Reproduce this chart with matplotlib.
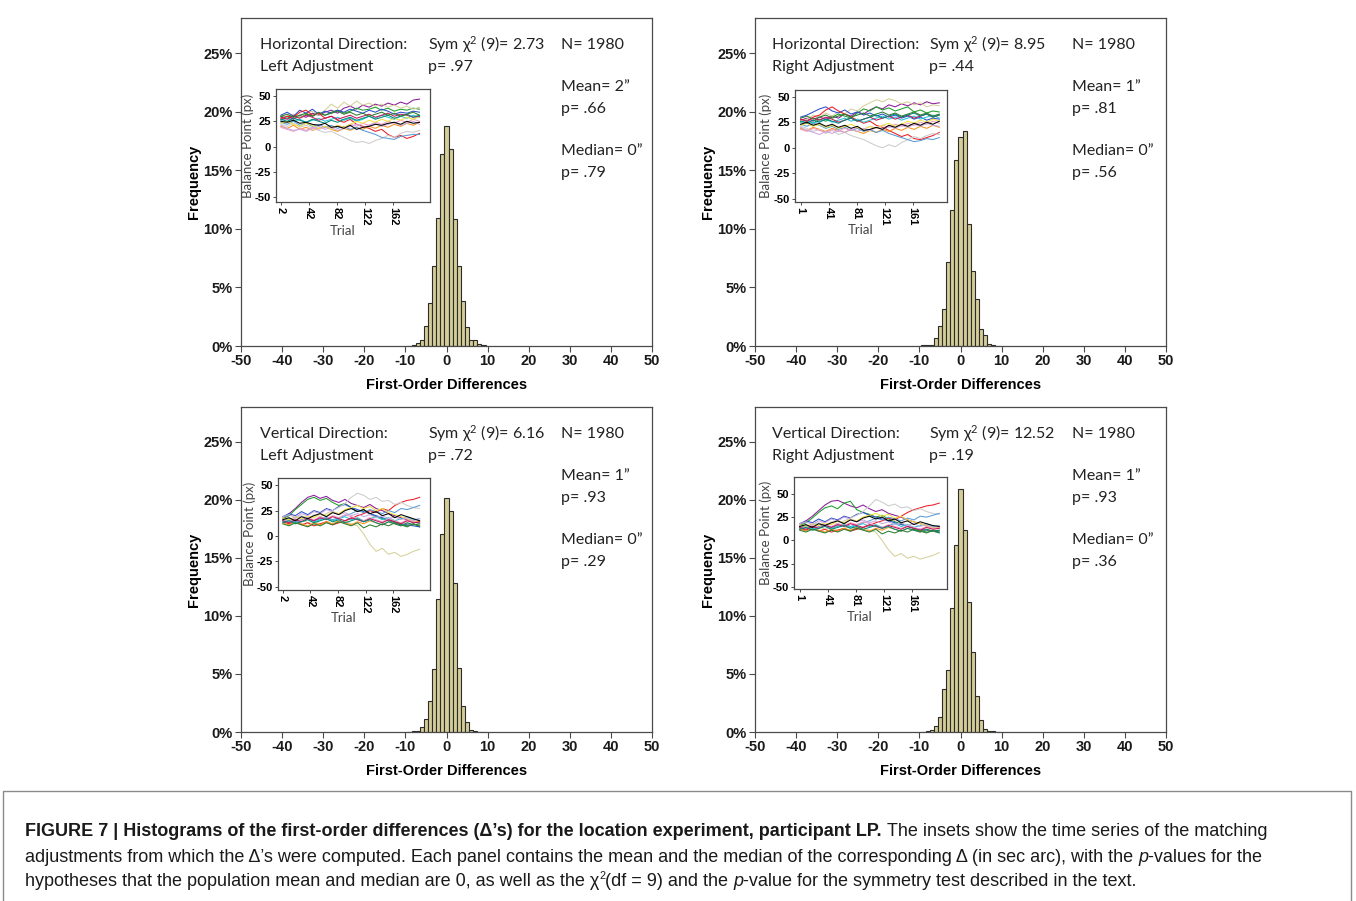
import numpy as np
import matplotlib
matplotlib.use('Agg')
import matplotlib.pyplot as plt

plt.rcParams['mathtext.fontset'] = 'custom'
plt.rcParams['mathtext.rm'] = 'Lato'
plt.rcParams['mathtext.it'] = 'Lato:italic'

# ---- histogram data (percent of N per 1-unit bin) ----
bin_centers = np.arange(-9, 10)
freq_hl = [0, 0.1, 0.26, 0.54, 1.7, 3.7, 6.8, 10.9, 16.4, 18.8, 16.8, 10.8, 6.8, 3.8, 1.6, 0.5, 0.48, 0.2, 0.1]
freq_hr = [0.05, 0.1, 0.1, 0.7, 1.7, 3.15, 7.2, 11.6, 15.9, 17.8, 18.35, 10.4, 6.4, 4.0, 1.45, 0.9, 0.2, 0.1, 0]
freq_vl = [0, 0.05, 0.1, 0.4, 1.1, 2.7, 5.4, 11.5, 17.1, 20.2, 19.0, 12.8, 5.5, 2.2, 0.9, 0.2, 0.05, 0, 0]
freq_vr = [0, 0.05, 0.15, 0.5, 1.3, 3.7, 5.35, 10.7, 16.1, 20.9, 17.4, 11.2, 6.9, 3.1, 1.0, 0.3, 0.05, 0.05, 0]

# ---- panel annotations ----
directions = ['Horizontal Direction:', 'Horizontal Direction:', 'Vertical Direction:', 'Vertical Direction:']
adjustments = ['Left Adjustment', 'Right Adjustment', 'Left Adjustment', 'Right Adjustment']
chi_values = ['2.73', '8.95', '6.16', '12.52']
sym_p = ['.97', '.44', '.72', '.19']
n_values = ['1980', '1980', '1980', '1980']
means = ['2', '1', '1', '1']
mean_p = ['.66', '.81', '.93', '.93']
medians = ['0', '0', '0', '0']
median_p = ['.79', '.56', '.29', '.36']

# ---- inset time series (balance point, px) ----
trials_left = np.arange(2, 201, 9)
trials_right = np.arange(1, 200, 9)
xticks_left = [2, 42, 82, 122, 162]
xticks_right = [1, 41, 81, 121, 161]

series_hl = [
    [28,30,27,31,29,33,31,34,36,33,38,40,37,41,39,42,40,43,41,44,42,46,47],
    [30,28,31,29,32,30,33,31,34,36,33,35,38,36,37,39,36,38,35,37,36,38,37],
    [27,30,32,29,33,35,31,36,42,38,44,40,45,41,43,40,42,39,41,38,40,37,39],
    [31,34,30,36,33,37,32,35,33,36,34,37,35,33,36,34,37,35,32,34,33,35,34],
    [27,30,29,34,36,31,33,28,30,26,24,27,22,20,18,15,17,12,9,11,8,10,13],
    [20,18,21,17,19,16,18,20,17,15,18,16,19,17,20,18,21,19,22,20,23,21,24],
    [22,20,23,19,21,18,16,14,15,12,9,6,4,5,3,6,8,11,9,13,15,14,16],
    [24,22,25,21,23,20,22,19,21,18,20,17,19,16,14,12,9,8,7,10,11,12,12],
    [26,28,25,27,24,26,28,25,27,29,26,28,25,27,30,28,31,29,27,30,28,31,29],
    [19,17,15,18,16,19,17,20,18,21,19,22,20,23,21,24,22,25,23,26,24,27,25],
    [23,25,22,20,23,21,18,20,17,21,19,22,25,23,26,24,27,25,28,26,29,27,30],
    [29,27,30,28,31,29,26,28,30,27,29,31,28,30,32,29,31,33,30,32,31,29,30],
    [27,25,28,26,24,27,25,23,26,24,27,29,26,28,30,27,29,31,28,30,32,29,31],
    [21,18,16,17,15,18,20,17,19,16,18,20,22,19,21,23,20,22,24,21,23,25,22],
    [30,32,29,31,33,30,34,31,33,35,32,34,31,33,30,32,34,31,33,30,32,34,31],
    [25,24,26,23,24,22,21,23,19,20,18,21,17,19,20,22,21,23,24,22,25,23,24],
]
series_hr = [
    [27,29,26,30,28,31,29,33,31,35,33,37,40,38,42,40,43,41,44,42,45,43,44],
    [25,27,24,28,26,30,33,31,29,34,38,36,40,37,39,36,38,40,35,37,34,36,35],
    [26,28,32,30,34,31,35,33,38,36,41,44,47,45,48,46,43,45,42,44,40,42,41],
    [30,32,35,38,40,36,34,37,33,35,32,34,31,33,30,32,29,31,28,30,27,29,28],
    [28,26,30,32,37,40,36,33,30,27,24,26,22,20,17,14,11,13,9,8,10,12,15],
    [19,17,20,18,16,19,17,15,18,16,14,17,15,18,16,19,17,20,18,21,19,22,20],
    [21,19,16,18,14,17,13,15,12,10,8,5,2,0,3,1,5,8,11,9,12,14,13],
    [23,21,24,22,19,21,18,20,17,19,16,18,15,17,14,12,10,8,6,7,9,8,10],
    [25,27,24,26,28,25,27,29,26,28,25,27,29,31,28,30,27,29,31,28,30,32,29],
    [18,16,19,17,15,18,16,19,17,20,18,21,19,22,20,23,21,24,22,25,23,26,24],
    [22,24,21,23,20,22,19,21,23,20,18,21,19,22,24,21,23,26,24,27,25,28,26],
    [28,26,29,27,30,28,25,27,29,26,28,30,27,29,31,28,30,32,29,31,33,30,32],
    [26,24,27,25,28,26,24,27,29,26,28,30,32,29,31,33,30,32,34,31,33,30,32],
    [20,17,15,13,16,14,17,15,18,16,19,17,20,18,21,19,22,20,23,21,24,22,21],
    [29,31,28,30,32,29,31,33,30,32,34,31,33,35,32,34,31,33,35,32,34,31,33],
    [23,25,22,24,21,23,20,22,19,21,17,18,20,18,22,20,23,21,24,22,25,23,26],
]
series_vl = [
    [18,22,27,33,38,40,37,39,35,33,36,32,30,28,31,27,25,22,20,18,16,14,13],
    [17,20,26,31,36,38,35,37,33,30,32,28,24,26,22,19,17,15,13,11,10,12,9],
    [15,17,14,16,13,15,12,14,16,13,15,12,10,2,-8,-15,-12,-18,-16,-20,-18,-15,-13],
    [19,22,20,24,21,25,23,27,25,29,31,28,26,24,22,20,18,16,14,12,11,10,9],
    [14,12,15,11,13,10,12,14,11,13,15,17,20,22,25,23,27,25,30,33,35,36,38],
    [13,11,14,12,10,13,11,14,12,15,13,11,14,12,15,13,11,14,12,10,13,11,12],
    [17,15,18,20,17,21,19,22,25,28,32,38,42,40,36,38,34,35,31,33,30,28,27],
    [15,17,14,16,18,15,17,19,16,18,20,22,25,23,26,24,22,25,23,27,26,28,30],
    [14,16,13,15,17,14,16,18,15,17,19,16,18,15,17,19,16,18,15,17,19,16,17],
    [16,14,17,15,18,16,19,17,20,18,21,19,17,15,18,16,14,17,15,13,16,14,15],
    [18,16,19,17,20,18,22,20,24,22,26,28,30,27,29,25,27,23,21,19,17,15,14],
    [15,13,16,14,17,15,18,16,19,17,15,18,16,14,17,15,13,16,14,12,15,13,14],
    [13,15,12,14,16,13,15,17,14,16,13,15,17,14,16,13,11,14,12,10,13,11,12],
    [19,21,18,22,20,24,22,26,24,21,23,20,22,19,21,18,20,17,19,16,18,15,17],
    [12,10,13,11,9,12,10,13,11,14,12,10,13,8,11,9,12,10,13,11,9,12,10],
    [16,18,15,19,17,20,22,19,23,21,25,27,24,26,22,24,20,22,18,21,19,17,15],
]
series_vr = [
    [17,21,26,32,38,42,43,40,37,35,38,34,31,33,29,27,25,22,20,18,16,15,14],
    [16,19,24,30,35,37,34,40,42,33,30,28,25,27,23,20,18,15,13,11,9,10,8],
    [14,16,13,15,12,14,11,13,15,12,14,11,9,0,-10,-17,-14,-19,-17,-20,-18,-16,-13],
    [18,21,19,23,20,24,22,26,24,28,30,27,25,23,21,19,17,15,13,12,11,10,9],
    [13,11,14,10,12,9,11,13,10,12,14,16,19,21,24,22,26,30,33,35,37,38,40],
    [12,10,13,11,9,12,10,13,11,14,12,10,13,11,14,12,10,13,11,9,12,10,11],
    [16,14,17,19,16,20,18,21,24,27,31,37,44,41,37,39,35,36,32,34,31,29,28],
    [14,16,13,15,17,14,16,18,15,17,19,21,24,22,25,23,21,24,22,26,25,27,29],
    [13,15,12,14,16,13,15,17,14,16,18,15,17,14,16,18,15,17,14,16,18,15,16],
    [15,13,16,14,17,15,18,16,19,17,20,18,16,14,17,15,13,16,14,12,15,13,14],
    [17,15,18,16,19,17,21,19,23,21,25,27,29,26,28,24,26,22,20,18,16,14,13],
    [14,12,15,13,16,14,17,15,18,16,14,17,15,13,16,14,12,15,13,11,14,12,13],
    [12,14,11,13,15,12,14,16,13,15,12,14,16,13,15,12,10,13,11,9,12,10,11],
    [18,20,17,21,19,23,21,25,23,20,22,19,21,18,20,17,19,16,18,15,17,14,16],
    [11,9,12,10,8,11,9,12,10,13,11,9,12,7,10,8,11,9,12,10,8,11,9],
    [15,17,14,18,16,19,21,18,22,20,24,26,23,25,21,23,19,21,17,20,18,16,15],
]
line_colors = ['#8b1a9b', '#1a9e2a', '#d6d09a', '#2a4fc8', '#ee1c24', '#f7941d',
               '#cccccc', '#5b9bd5', '#29c5d6', '#f49ac1', '#f2e040', '#c2185b',
               '#00897b', '#c8a8e0', '#2e7d32', '#000000']

W, H = 1356, 901
fig = plt.figure(figsize=(W / 100, H / 100), dpi=100)
fig.patch.set_facecolor('white')

BAR_FACE = '#d5cd98'
BAR_EDGE = '#2b2b2b'
SPINE = '#4a4a4a'
ANNOT_FONT = ['Lato', 'DejaVu Sans']
TICK_FONT = ['Liberation Sans', 'DejaVu Sans']


def px_rect(left, top, right, bottom):
    return [left / W, 1 - bottom / H, (right - left) / W, (bottom - top) / H]


main_rects = [(241, 18, 652, 346), (755, 18, 1166, 346),
              (241, 407, 652, 732), (755, 407, 1166, 732)]
inset_rects = [(276, 89, 430, 202), (795, 90, 947, 202),
               (278, 478, 430, 590), (794, 477, 947, 589)]
inset_ylims = [(-55, 57), (-53, 56.5), (-53, 57), (-52, 68)]
text_cols = [(19, 187, 320), (17, 174, 317), (19, 187, 320), (17, 174, 317)]
text_rows = [27, 49, 69, 91, 133, 155]

freqs = [freq_hl, freq_hr, freq_vl, freq_vr]
series = [series_hl, series_hr, series_vl, series_vr]

for i in range(4):
    rect = main_rects[i]
    ax = fig.add_axes(px_rect(*rect))
    ax.bar(bin_centers, freqs[i], width=1.0, color=BAR_FACE, edgecolor=BAR_EDGE, linewidth=0.8)
    ax.set_xlim(-50, 50)
    ax_h = rect[3] - rect[1]
    ax.set_ylim(0, 28)
    ax.set_xticks(np.arange(-50, 51, 10))
    ax.set_xticklabels([str(v) for v in range(-50, 51, 10)], fontweight='bold',
                       fontsize=10.5, family=TICK_FONT)
    ax.set_yticks(np.arange(0, 26, 5))
    ax.set_yticklabels([f'{v}%' for v in range(0, 26, 5)], fontweight='bold',
                       fontsize=10.5, family=TICK_FONT)
    ax.tick_params(direction='out', length=4, width=0.8, color=SPINE, pad=2, labelcolor='#1a1a1a')
    for sp in ax.spines.values():
        sp.set_color(SPINE)
        sp.set_linewidth(0.9)
    ax.set_ylabel('Frequency', fontweight='bold', fontsize=10.5, family=TICK_FONT)
    ax.yaxis.set_label_coords(-40 / 411, 0.5)
    ax.set_xlabel('First-Order Differences', fontweight='bold', fontsize=10.5, family=TICK_FONT)
    ax.xaxis.set_label_coords(0.5, -32 / ax_h)

    # annotations
    cx = [c / 411 for c in text_cols[i]]
    ry = [1 - r / ax_h for r in text_rows]
    kw = dict(transform=ax.transAxes, va='center', ha='left', fontsize=11.5,
              family=ANNOT_FONT, color='#222222')
    ax.text(cx[0], ry[0], directions[i], **kw)
    ax.text(cx[0], ry[1], adjustments[i], **kw)
    ax.text(cx[1], ry[0], 'Sym \u03c7$^{2}$ (9)= ' + chi_values[i], **kw)
    ax.text(cx[1], ry[1], f'p= {sym_p[i]}', **kw)
    ax.text(cx[2], ry[0], f'N= {n_values[i]}', **kw)
    ax.text(cx[2], ry[2], f'Mean= {means[i]}\u201d', **kw)
    ax.text(cx[2], ry[3], f'p= {mean_p[i]}', **kw)
    ax.text(cx[2], ry[4], f'Median= {medians[i]}\u201d', **kw)
    ax.text(cx[2], ry[5], f'p= {median_p[i]}', **kw)

    # inset time series
    irect = inset_rects[i]
    ins = fig.add_axes(px_rect(*irect))
    left_side = (i % 2 == 0)
    trials = trials_left if left_side else trials_right
    for vals, col in zip(series[i], line_colors):
        ins.plot(trials, vals, color=col, linewidth=0.75)
    ins.set_xlim(-5, 215) if left_side else ins.set_xlim(-7, 210)
    ins.set_ylim(*inset_ylims[i])
    xt = xticks_left if left_side else xticks_right
    ins.set_xticks(xt)
    ins.set_xticklabels([str(v) for v in xt], rotation=-90, fontweight='bold',
                        fontsize=8, family=TICK_FONT)
    ins.set_yticks([-50, -25, 0, 25, 50])
    ins.set_yticklabels(['-50', '-25', '0', '25', '50'], fontweight='bold',
                        fontsize=8, family=TICK_FONT)
    ins.tick_params(direction='out', length=2.5, width=0.7, color=SPINE, pad=1)
    for sp in ins.spines.values():
        sp.set_color(SPINE)
        sp.set_linewidth(0.9)
    ins.set_ylabel('Balance Point (px)', fontsize=9.5, family=ANNOT_FONT, color='#444444', labelpad=1)
    ins.set_xlabel('Trial', fontsize=9.5, family=ANNOT_FONT, color='#444444')
    ins.xaxis.set_label_coords(0.43, -0.2)

# ---- caption ----
fig.add_artist(plt.Line2D([3 / W, 3 / W, 1351 / W, 1351 / W], [0, 1 - 791 / H, 1 - 791 / H, 0],
                          transform=fig.transFigure, color='#8a8a8a', linewidth=1))

CAP_FONT = ['Liberation Sans Narrow', 'Liberation Sans', 'DejaVu Sans']
renderer = fig.canvas.get_renderer()


def text_width(s, size, **kw):
    t = fig.text(0, 0, s, fontsize=size, family=CAP_FONT, **kw)
    w = t.get_window_extent(renderer).width
    t.remove()
    return w


line1 = [("FIGURE 7 | Histograms of the first-order differences (\u0394\u2019s) for the location experiment, participant LP.",
          dict(fontweight='bold')),
         (" The insets show the time series of the matching", {})]
line2 = [("adjustments from which the \u0394\u2019s were computed. Each panel contains the mean and the median of the corresponding \u0394 (in sec arc), with the ", {}),
         ("p", dict(style='italic')),
         ("-values for the", {})]
line3 = [("hypotheses that the population mean and median are 0, as well as the \u03c7", {}),
         ("2", dict(sup=True)),
         ("(df = 9) and the ", {}),
         ("p", dict(style='italic')),
         ("-value for the symmetry test described in the text.", {})]

# fit font size so the second caption line spans its width in the reference
base = 12.0
full2 = ''.join(s for s, _ in line2)
cap_size = base * 1240 / text_width(full2, base)


def draw_runs(runs, x_px, y_px, size):
    x = x_px
    sp = text_width('a a', size) - text_width('aa', size)
    for s, opts in runs:
        opts = dict(opts)
        sup = opts.pop('sup', False)
        if s.startswith(' '):
            x += sp
        core = s.strip()
        fs = size * 0.6 if sup else size
        y = y_px - (6 if sup else 0)
        fig.text(x / W, 1 - y / H, core, fontsize=fs, family=CAP_FONT,
                 va='center', ha='left', color='#1a1a1a', **opts)
        x += text_width(core, fs, **opts)
        if s.endswith(' '):
            x += sp


draw_runs(line1, 25, 831, cap_size)
draw_runs(line2, 25, 857, cap_size)
draw_runs(line3, 25, 882, cap_size)

fig.savefig('out.png', dpi=100)
